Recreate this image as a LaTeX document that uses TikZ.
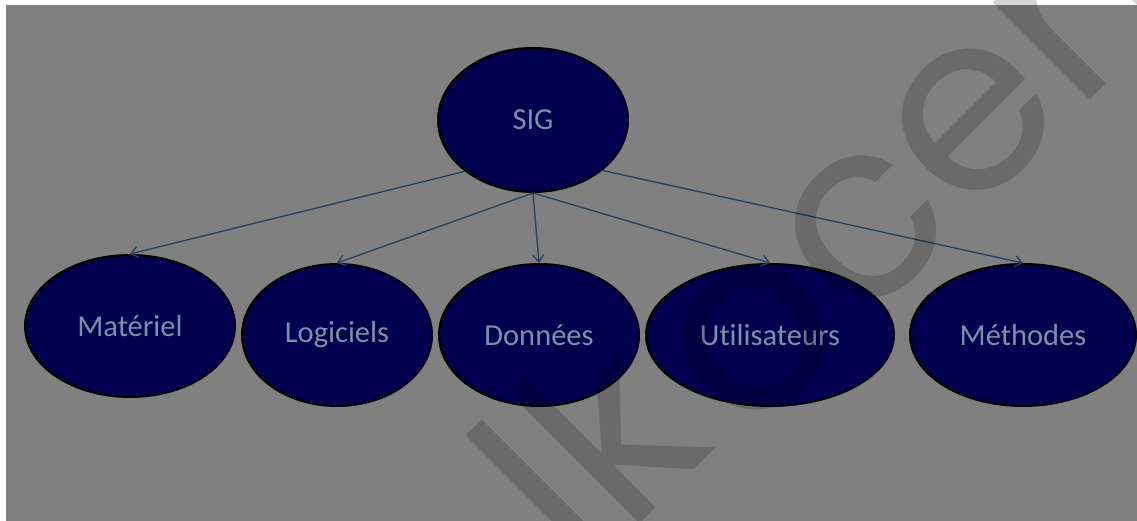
\documentclass[tikz,border=0pt]{standalone}
\usepackage{fontspec}
\setmainfont{Carlito}[Ligatures={NoCommon}]
\newfontfamily\markfont{Poppins}
\usetikzlibrary{shapes.geometric,arrows.meta}
\definecolor{pagegrey}{HTML}{808080}
\definecolor{navyfill}{HTML}{00004F}
\definecolor{labeltext}{HTML}{7C90A6}
\definecolor{linkcol}{HTML}{27405C}

\begin{document}
\begin{tikzpicture}[x=1pt,y=-1pt,
  bubble/.style={ellipse,draw=black,line width=2pt,fill=navyfill,inner sep=0pt,
    minimum height=142pt,text=labeltext,font=\fontsize{30.5}{36}\selectfont},
  link/.style={draw=linkcol,line width=1.3pt,
    -{Straight Barb[length=7pt,width=11pt,line width=1.3pt]}},
  wmark/.style={rotate=45,text=black,text opacity=0.17,inner sep=0pt,
    font=\markfont\fontsize{250}{250}\selectfont}]
\useasboundingbox (0,0) rectangle (1137,521);
\fill[white] (0,0) rectangle (1137,521);
\fill[pagegrey] (6,5) rectangle (1137,521);

% root and the five components
\node[bubble,minimum width=190pt,minimum height=144pt] (sig) at (533,120) {SIG};
\node[bubble,minimum width=210pt] (mat) at (130,326) {Matériel};
\node[bubble,minimum width=190pt] (log) at (337,335) {Logiciels};
\node[bubble,minimum width=200pt] (don) at (539,335) {Données};
\node[bubble,minimum width=248pt] (uti) at (770,335) {Utilisateurs};
\node[bubble,minimum width=226pt] (met) at (1023,335) {Méthodes};

% links from the root
\draw[link] (sig.217) -- (mat.north);
\draw[link] (sig.south) -- (log.north);
\draw[link] (sig.south) -- (don.north);
\draw[link] (sig.south) -- (uti.north);
\draw[link] (sig.324) -- (met.north);

% diagonal watermark lettering
\begin{scope}
\clip (0,0) rectangle (1137,521);
\node[wmark,anchor=base west] at (746,444) {ocen};
\node[wmark,anchor=base east] at (718,446) {lk};
\end{scope}
\end{tikzpicture}
\end{document}
